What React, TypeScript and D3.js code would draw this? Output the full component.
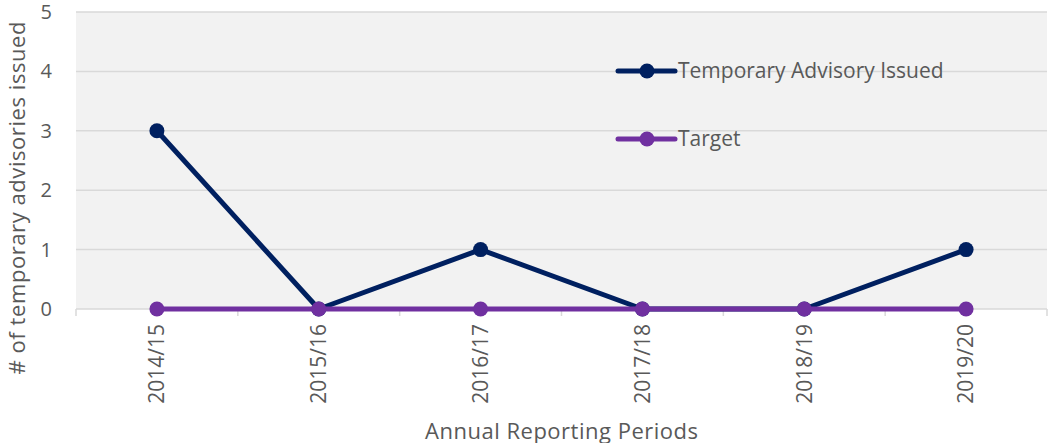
import React from "react";
import * as d3 from "d3";

const periods = ["2014/15", "2015/16", "2016/17", "2017/18", "2018/19", "2019/20"];
const advisories = [3, 0, 1, 0, 0, 1];
const target = [0, 0, 0, 0, 0, 0];
const yTicks = [0, 1, 2, 3, 4, 5];

const W = 1049;
const H = 443;
const margin = { top: 12, right: 2, bottom: 134, left: 76 };
const font = "'Open Sans', sans-serif";
const textColor = "#595959";

const App = () => {
  const innerW = W - margin.left - margin.right;
  const innerH = H - margin.top - margin.bottom;

  const x = d3.scaleBand().domain(periods).range([0, innerW]);
  const y = d3.scaleLinear().domain([0, 5]).range([innerH, 0]);
  const cx = (p: string) => (x(p) as number) + x.bandwidth() / 2;

  const line = d3
    .line<number>()
    .x((_, i) => cx(periods[i]))
    .y((d) => y(d));

  const series = [
    { name: "Temporary Advisory Issued", values: advisories, color: "#002060" },
    { name: "Target", values: target, color: "#7030a0" },
  ];

  return (
    <svg width={W} height={H} style={{ position: "absolute", left: 0, top: 0 }}>
      <g transform={`translate(${margin.left},${margin.top})`}>
        <rect width={innerW} height={innerH} fill="#f2f2f2" />
        {yTicks.map((t) => (
          <g key={t}>
            <line x1={0} x2={innerW} y1={y(t)} y2={y(t)} stroke="#d9d9d9" strokeWidth={1.5} />
            <text x={-24} y={y(t)} dy="0.35em" textAnchor="end" fontFamily={font} fontSize={20} fill={textColor}>
              {t}
            </text>
          </g>
        ))}
        {d3.range(periods.length + 1).map((i) => (
          <line
            key={i}
            x1={i * x.bandwidth()}
            x2={i * x.bandwidth()}
            y1={innerH}
            y2={innerH + 7}
            stroke="#d9d9d9"
            strokeWidth={1.5}
          />
        ))}
        {periods.map((p) => (
          <text
            key={p}
            transform={`translate(${cx(p)},${innerH + 15}) rotate(-90)`}
            dy="0.35em"
            textAnchor="end"
            fontFamily={font}
            fontSize={21}
            fill={textColor}
          >
            {p}
          </text>
        ))}
        {series.map((s) => (
          <g key={s.name}>
            <path d={line(s.values) as string} fill="none" stroke={s.color} strokeWidth={5} strokeLinejoin="round" />
            {s.values.map((v, i) => (
              <circle key={i} cx={cx(periods[i])} cy={y(v)} r={7.5} fill={s.color} />
            ))}
          </g>
        ))}
        {series.map((s, i) => {
          const ly = 59 + i * 68;
          return (
            <g key={s.name} transform={`translate(542,${ly})`}>
              <line x1={0} x2={57} y1={0} y2={0} stroke={s.color} strokeWidth={5} strokeLinecap="round" />
              <circle cx={29} cy={0} r={7.5} fill={s.color} />
              <text x={60} dy="0.35em" fontFamily={font} fontSize={21} fill={textColor}>
                {s.name}
              </text>
            </g>
          );
        })}
      </g>
      <text
        transform="translate(25,198) rotate(-90)"
        textAnchor="middle"
        fontFamily={font}
        fontSize={22}
        textLength={353}
        lengthAdjust="spacing"
        fill={textColor}
      >
        # of temporary advisories issued
      </text>
      <text
        x={margin.left + innerW / 2}
        y={439}
        textAnchor="middle"
        fontFamily={font}
        fontSize={22}
        textLength={273}
        lengthAdjust="spacing"
        fill={textColor}
      >
        Annual Reporting Periods
      </text>
    </svg>
  );
};

export default App;
